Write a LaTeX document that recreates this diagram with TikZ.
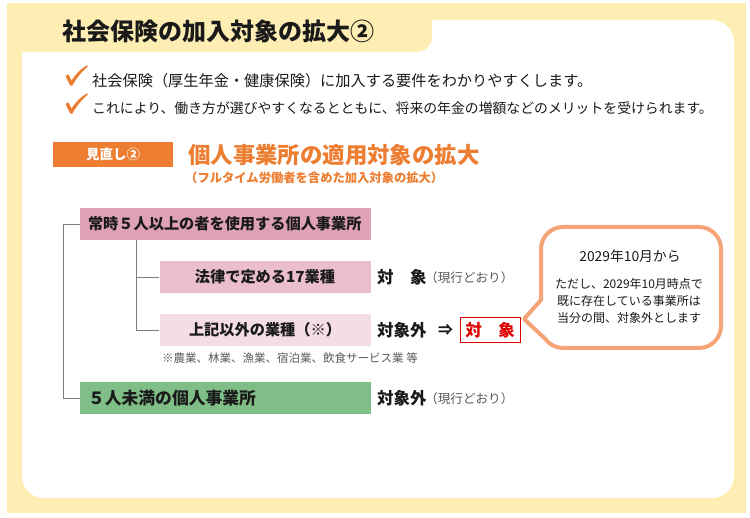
\documentclass[tikz,border=0pt]{standalone}
\usepackage{fontspec}
\setmainfont{Noto Sans CJK JP}
\definecolor{bgyellow}{HTML}{FFEEB3}
\definecolor{orng}{HTML}{ED7D31}
\definecolor{pinkA}{HTML}{DFA1B5}
\definecolor{pinkB}{HTML}{EBBECB}
\definecolor{pinkC}{HTML}{F5DDE4}
\definecolor{grn}{HTML}{7FBF87}
\definecolor{callbd}{HTML}{F4A476}
\definecolor{rd}{HTML}{E00000}
\definecolor{txtgray}{HTML}{595959}
\definecolor{linegray}{HTML}{7F7F7F}
\definecolor{dark}{HTML}{1A1A1A}
\newcommand{\fs}[1]{\fontsize{#1}{#1}\selectfont}
\tikzset{
  tx/.style={inner sep=0pt, anchor=west, text=dark},
  catbox/.style={inner ysep=0pt, minimum height=32pt, text=dark, font=\bfseries\fs{15.2}},
  treeline/.style={draw=linegray, line width=0.9pt},
  callout/.style={draw=callbd, line width=4pt, fill=white, line join=round},
}
\begin{document}
\begin{tikzpicture}[x=1pt, y=-1pt]
\useasboundingbox (0,0) rectangle (750,518);
% background
\fill[bgyellow] (7,3) rectangle (746,513);
\fill[white] (22,52) -- (417,52) arc[start angle=90, end angle=0, radius=15]
  -- (432,20) -- (712,20) arc[start angle=270, end angle=360, radius=22]
  -- (734,476) arc[start angle=0, end angle=90, radius=22]
  -- (44,498) arc[start angle=90, end angle=180, radius=22] -- cycle;
% title
\node[tx, font=\bfseries\fs{24}] (title) at (62,31) {社会保険の加入対象の拡大②};
% check marks
\foreach \yy/\nm in {0/ck1, 28/ck2} {
  \fill[orng] (65.5,76+\yy) -- (68.3,74.3+\yy) -- (71.6,80.6+\yy)
    .. controls (76,73.5+\yy) and (81,68.5+\yy) .. (87.3,65.3+\yy)
    -- (87.8,66.4+\yy) .. controls (81.5,72+\yy) and (76.5,78+\yy) .. (72.3,85.6+\yy)
    -- (70.2,85.6+\yy) -- cycle;
}
\node[tx, font=\fs{15.2}] (b1) at (92,81) {社会保険（厚生年金・健康保険）に加入する要件をわかりやすくします。};
\node[tx, font=\fs{13.85}] (b2) at (92,108) {これにより、働き方が選びやすくなるとともに、将来の年金の増額などのメリットを受けられます。};
% section header
\node[fill=orng, text=white, font=\bfseries\fs{13.5}, minimum width=120pt, minimum height=25pt, inner sep=0pt] (mn) at (113,154.5) {見直し②};
\node[tx, text=orng, font=\bfseries\fs{22.4}] (h1) at (188,155) {個人事業所の適用対象の拡大};
\node[tx, text=orng, font=\bfseries\fs{12.3}] (h2) at (185,178) {（フルタイム労働者を含めた加入対象の拡大）};
% category boxes
\node[catbox, fill=pinkA, minimum width=291pt, text width=275pt, inner xsep=8pt, align=left] (c1) at (225.5,224) {常時５人以上の者を使用する個人事業所};
\node[catbox, fill=pinkB, minimum width=211pt, inner xsep=0pt] (c2) at (265,277) {法律で定める17業種};
\node[catbox, fill=pinkC, minimum width=211pt, inner xsep=0pt] (c3) at (265,330) {上記以外の業種（※）};
\node[catbox, fill=grn, minimum width=291pt, text width=275pt, inner xsep=8pt, align=left, font=\bfseries\fs{16.8}] (c4) at (225.5,398) {５人未満の個人事業所};
\node[tx, text=txtgray, font=\fs{11.5}] (note) at (162,358) {※農業、林業、漁業、宿泊業、飲食サービス業 等};
% tree connectors
\coordinate (t1) at (63.5,224);
\coordinate (t2) at (136,240);
\draw[treeline] (c1.west) -- (t1) |- (c4.west);
\draw[treeline] (t2) |- (c2.west);
\draw[treeline] (t2) |- (c3.west);
% result labels
\node[tx, font=\bfseries\fs{16.5}] (r1) at (377,277) {対　象};
\node[tx, text=txtgray, font=\fs{12.6}] (r1n) at (425,278) {（現行どおり）};
\node[tx, font=\bfseries\fs{16.5}] (r2) at (377,330) {対象外};
\node[tx, font=\bfseries\fs{15}] (arr) at (438,330) {⇒};
\node[draw=rd, line width=0.8pt, text=rd, font=\bfseries\fs{16.5}, minimum width=60pt, minimum height=25pt, inner sep=0pt] (r2b) at (490,330) {対　象};
\node[tx, font=\bfseries\fs{16.5}] (r3) at (377,398) {対象外};
\node[tx, text=txtgray, font=\fs{12.6}] (r3n) at (425,399) {（現行どおり）};
% callout
\draw[callout] (541,300) -- (541,249) arc[start angle=180, end angle=270, radius=22]
  -- (699,227) arc[start angle=270, end angle=360, radius=22]
  -- (721,326) arc[start angle=0, end angle=90, radius=22]
  -- (563,348) arc[start angle=90, end angle=145, radius=22]
  -- (524,319) -- cycle;
\node[inner sep=0pt, text=dark, font=\fs{13.8}] (cl1) at (630,256) {2029年10月から};
\node[inner sep=0pt, text=dark, font=\fontsize{12}{17}\selectfont, align=center] (cl2) at (629,301)
  {ただし、2029年10月時点で\\既に存在している事業所は\\当分の間、対象外とします};
\end{tikzpicture}
\end{document}
